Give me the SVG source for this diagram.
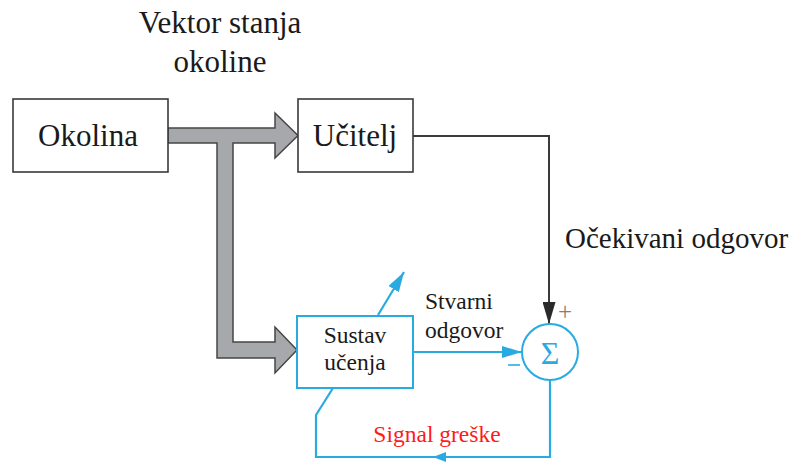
<svg xmlns="http://www.w3.org/2000/svg" width="793" height="462" viewBox="0 0 793 462" font-family="'Liberation Serif', 'DejaVu Serif', 'Times New Roman', serif">
<defs>
<style>
text{font-family:'Liberation Serif','DejaVu Serif','Times New Roman',serif;fill:#1a1a1a}
.box{fill:#fff;stroke:#3a3a3a;stroke-width:1.6}
.bbox{fill:#fff;stroke:#29abe2;stroke-width:2}
.blue{fill:none;stroke:#29abe2;stroke-width:2.2}
.blk{fill:none;stroke:#3a3a3a;stroke-width:2}
.big{font-size:31px}
.mid{font-size:29px}
.sm{font-size:23.5px}
</style>
<marker id="abig" markerWidth="20" markerHeight="12" refX="20" refY="6" orient="auto" markerUnits="userSpaceOnUse" viewBox="0 0 20 12">
<path d="M0,0 L20,6 L0,12 Z" fill="#29abe2"/>
</marker>
<marker id="ak" markerWidth="22" markerHeight="13" refX="22" refY="6.5" orient="auto" markerUnits="userSpaceOnUse" viewBox="0 0 22 13">
<path d="M0,0 L22,6.5 L0,13 Z" fill="#2a2a2a"/>
</marker>
</defs>
<rect width="793" height="462" fill="#fff"/>

<g id="connectors">
<path d="M168,128 L275,128 L275,113 L298,135.5 L275,158 L275,143 L233,143 L233,342 L275,342 L275,327 L297,350 L275,373 L275,358 L217,358 L217,143 L168,143 Z" fill="#a6a8ab" stroke="#454545" stroke-width="1.5" stroke-linejoin="miter"/>
<path class="blk" d="M413,136 L549,136 L549,324" marker-end="url(#ak)"/>
<path class="blue" d="M378,315 L404,272" marker-end="url(#abig)"/>
<path class="blue" d="M413,352 L522,352" marker-end="url(#abig)"/>
<path class="blue" d="M550,380 L550,457 L433,457"/>
<path class="blue" d="M445,457 L316,457 L316,415 L333,388"/>
<path d="M433,457 L446,452 L446,462 Z" fill="#29abe2"/>
</g>

<g id="okolina">
<rect class="box" x="13" y="99" width="155" height="73"/>
<text class="big" x="88" y="146" text-anchor="middle" font-family="'Liberation Serif', serif">Okolina</text>
</g>

<g id="ucitelj">
<rect class="box" x="298" y="99" width="115" height="73"/>
<text class="big" x="355" y="146" text-anchor="middle" font-family="'Liberation Serif', serif">Učitelj</text>
</g>

<g id="sustav">
<rect class="bbox" x="297" y="316" width="116" height="72"/>
<text class="sm" x="355" y="343" text-anchor="middle" font-family="'Liberation Serif', serif">Sustav</text>
<text class="sm" x="355" y="370" text-anchor="middle" font-family="'Liberation Serif', serif">učenja</text>
</g>

<g id="sum">
<circle cx="550" cy="352" r="28" fill="#fff" stroke="#29abe2" stroke-width="2"/>
<text x="550" y="364" text-anchor="middle" font-size="32" font-family="'Liberation Serif', serif" style="fill:#29abe2">Σ</text>
<text x="565" y="320" text-anchor="middle" font-size="25" font-family="'Liberation Serif', serif" style="fill:#8c7b70">+</text>
<line x1="508" y1="365" x2="520" y2="365" stroke="#29abe2" stroke-width="1.6"/>
</g>

<g id="labels">
<text class="big" x="220" y="33" text-anchor="middle" font-family="'Liberation Serif', serif">Vektor stanja</text>
<text class="big" x="220" y="72" text-anchor="middle" font-family="'Liberation Serif', serif">okoline</text>
<text class="mid" x="565" y="248" font-family="'Liberation Serif', serif">Očekivani odgovor</text>
<text class="sm" x="425" y="309" font-family="'Liberation Serif', serif">Stvarni</text>
<text class="sm" x="425" y="338" font-family="'Liberation Serif', serif">odgovor</text>
<text class="sm" x="437" y="442" text-anchor="middle" font-family="'Liberation Serif', serif" style="fill:#ff1a1a">Signal greške</text>
</g>
</svg>
